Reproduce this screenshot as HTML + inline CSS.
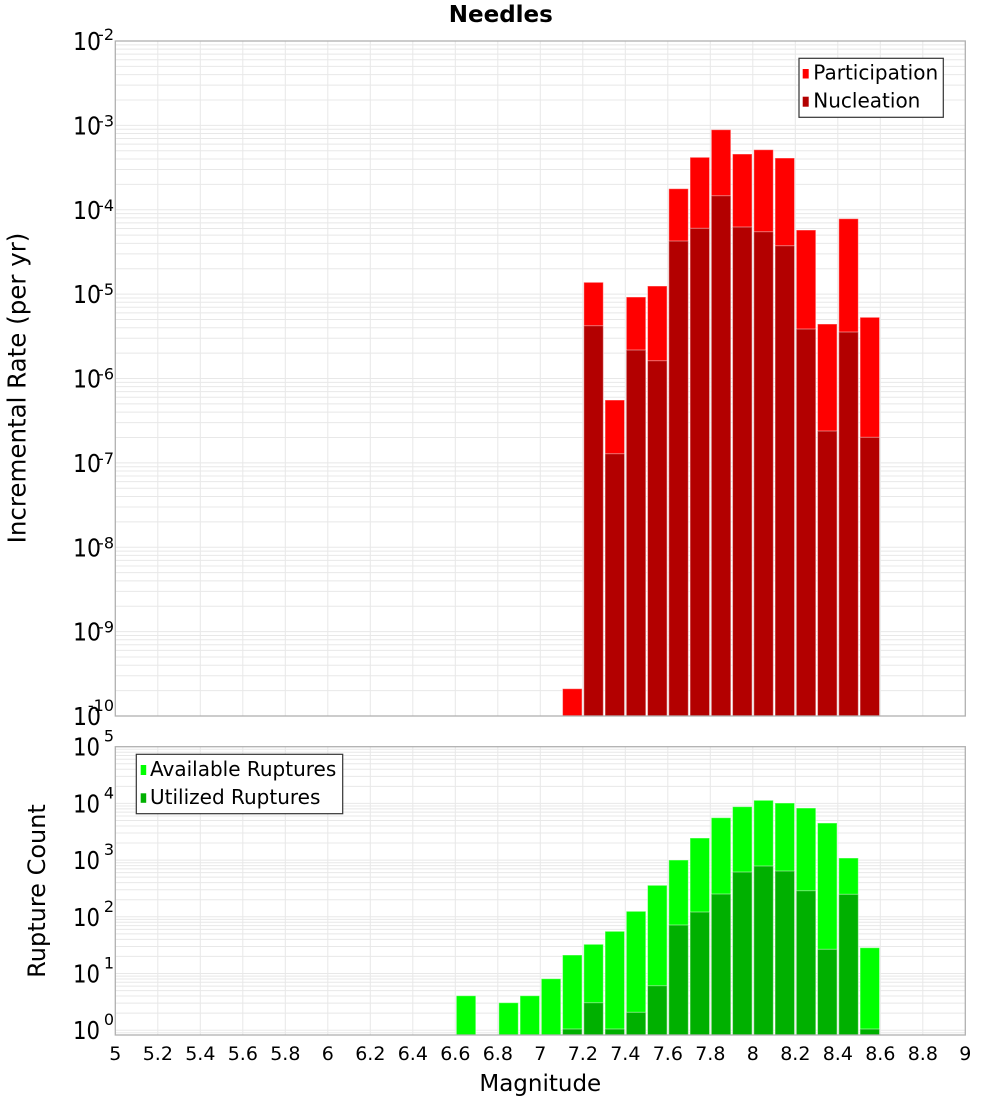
<!DOCTYPE html>
<html><head><meta charset="utf-8"><style>
html,body{margin:0;padding:0;background:#fff;}
svg{display:block;font-family:"DejaVu Sans","Liberation Sans",sans-serif;}
</style></head><body>
<svg width="1000" height="1100" viewBox="0 0 1000 1100" xmlns="http://www.w3.org/2000/svg">
<defs>
<clipPath id="c1"><rect x="115.3" y="41" width="850" height="675"/></clipPath>
<clipPath id="c2"><rect x="115.3" y="746.7" width="850" height="288.3"/></clipPath>
<g id="dt" stroke="#e8e8e8" stroke-width="1">
<line x1="115" x2="966" y1="0" y2="0"/><line x1="115" x2="966" y1="-25.4" y2="-25.4"/><line x1="115" x2="966" y1="-40.26" y2="-40.26"/><line x1="115" x2="966" y1="-50.8" y2="-50.8"/><line x1="115" x2="966" y1="-58.97" y2="-58.97"/><line x1="115" x2="966" y1="-65.66" y2="-65.66"/><line x1="115" x2="966" y1="-71.31" y2="-71.31"/><line x1="115" x2="966" y1="-76.2" y2="-76.2"/><line x1="115" x2="966" y1="-80.51" y2="-80.51"/>
</g>
<g id="db" stroke="#e8e8e8" stroke-width="1">
<line x1="115" x2="966" y1="0" y2="0"/><line x1="115" x2="966" y1="-17.07" y2="-17.07"/><line x1="115" x2="966" y1="-27.05" y2="-27.05"/><line x1="115" x2="966" y1="-34.14" y2="-34.14"/><line x1="115" x2="966" y1="-39.63" y2="-39.63"/><line x1="115" x2="966" y1="-44.12" y2="-44.12"/><line x1="115" x2="966" y1="-47.92" y2="-47.92"/><line x1="115" x2="966" y1="-51.2" y2="-51.2"/><line x1="115" x2="966" y1="-54.1" y2="-54.1"/>
</g>
<g id="vg" stroke="#e8e8e8" stroke-width="1">
<line x1="157.8" x2="157.8" y1="0" y2="1100"/><line x1="200.3" x2="200.3" y1="0" y2="1100"/><line x1="242.8" x2="242.8" y1="0" y2="1100"/><line x1="285.3" x2="285.3" y1="0" y2="1100"/><line x1="327.8" x2="327.8" y1="0" y2="1100"/><line x1="370.3" x2="370.3" y1="0" y2="1100"/><line x1="412.8" x2="412.8" y1="0" y2="1100"/><line x1="455.3" x2="455.3" y1="0" y2="1100"/><line x1="497.8" x2="497.8" y1="0" y2="1100"/><line x1="540.3" x2="540.3" y1="0" y2="1100"/><line x1="582.8" x2="582.8" y1="0" y2="1100"/><line x1="625.3" x2="625.3" y1="0" y2="1100"/><line x1="667.8" x2="667.8" y1="0" y2="1100"/><line x1="710.3" x2="710.3" y1="0" y2="1100"/><line x1="752.8" x2="752.8" y1="0" y2="1100"/><line x1="795.3" x2="795.3" y1="0" y2="1100"/><line x1="837.8" x2="837.8" y1="0" y2="1100"/><line x1="880.3" x2="880.3" y1="0" y2="1100"/><line x1="922.8" x2="922.8" y1="0" y2="1100"/>
</g>
</defs>

<!-- Title -->
<text x="500.8" y="22" font-size="23" font-weight="bold" text-anchor="middle" fill="#000">Needles</text>

<!-- TOP PLOT grid -->
<g clip-path="url(#c1)">
<use href="#vg"/>
<use href="#dt" transform="translate(0,716)"/>
<use href="#dt" transform="translate(0,631.625)"/>
<use href="#dt" transform="translate(0,547.25)"/>
<use href="#dt" transform="translate(0,462.875)"/>
<use href="#dt" transform="translate(0,378.5)"/>
<use href="#dt" transform="translate(0,294.125)"/>
<use href="#dt" transform="translate(0,209.75)"/>
<use href="#dt" transform="translate(0,125.375)"/>
<use href="#dt" transform="translate(0,41)"/>

<g stroke="rgba(255,255,255,0.45)" stroke-width="1">
<g fill="#ff0000">
<rect x="562.55" y="688.7" width="19.5" height="27.3"/>
<rect x="583.8" y="282.3" width="19.5" height="433.7"/>
<rect x="605.05" y="400" width="19.5" height="316"/>
<rect x="626.3" y="297" width="19.5" height="419"/>
<rect x="647.55" y="286" width="19.5" height="430"/>
<rect x="668.8" y="188.7" width="19.5" height="527.3"/>
<rect x="690.05" y="157.3" width="19.5" height="558.7"/>
<rect x="711.3" y="129.7" width="19.5" height="586.3"/>
<rect x="732.55" y="154" width="19.5" height="562"/>
<rect x="753.8" y="149.7" width="19.5" height="566.3"/>
<rect x="775.05" y="158" width="19.5" height="558"/>
<rect x="796.3" y="230" width="19.5" height="486"/>
<rect x="817.55" y="324" width="19.5" height="392"/>
<rect x="838.8" y="218.7" width="19.5" height="497.3"/>
<rect x="860.05" y="317.3" width="19.5" height="398.7"/>
</g>
<g fill="#b30000">
<rect x="583.8" y="325.7" width="19.5" height="390.3"/>
<rect x="605.05" y="453.7" width="19.5" height="262.3"/>
<rect x="626.3" y="350" width="19.5" height="366"/>
<rect x="647.55" y="360.7" width="19.5" height="355.3"/>
<rect x="668.8" y="241" width="19.5" height="475"/>
<rect x="690.05" y="228.3" width="19.5" height="487.7"/>
<rect x="711.3" y="195.7" width="19.5" height="520.3"/>
<rect x="732.55" y="227" width="19.5" height="489"/>
<rect x="753.8" y="231.7" width="19.5" height="484.3"/>
<rect x="775.05" y="245.7" width="19.5" height="470.3"/>
<rect x="796.3" y="329" width="19.5" height="387"/>
<rect x="817.55" y="431" width="19.5" height="285"/>
<rect x="838.8" y="332" width="19.5" height="384"/>
<rect x="860.05" y="437.3" width="19.5" height="278.7"/>
</g>
</g>
</g>
<rect x="115.3" y="41" width="850" height="675" fill="none" stroke="#b0b0b0" stroke-width="1.3"/>

<!-- top legend -->
<rect x="799" y="58.3" width="144.3" height="59" fill="#fff" stroke="#333" stroke-width="1.2"/>
<rect x="802.7" y="69" width="6" height="9.5" fill="#ff0000"/>
<rect x="802.7" y="96.7" width="6" height="10" fill="#b30000"/>
<text x="813.3" y="79.5" font-size="20" fill="#000">Participation</text>
<text x="813.3" y="107.5" font-size="20" fill="#000">Nucleation</text>

<!-- top y tick labels -->
<g fill="#000">
<g font-size="25">
<text x="73" y="50" textLength="28" lengthAdjust="spacingAndGlyphs">10</text>
<text x="73" y="134.4" textLength="28" lengthAdjust="spacingAndGlyphs">10</text>
<text x="73" y="218.8" textLength="28" lengthAdjust="spacingAndGlyphs">10</text>
<text x="73" y="303.1" textLength="28" lengthAdjust="spacingAndGlyphs">10</text>
<text x="73" y="387.5" textLength="28" lengthAdjust="spacingAndGlyphs">10</text>
<text x="73" y="471.9" textLength="28" lengthAdjust="spacingAndGlyphs">10</text>
<text x="73" y="556.3" textLength="28" lengthAdjust="spacingAndGlyphs">10</text>
<text x="73" y="640.6" textLength="28" lengthAdjust="spacingAndGlyphs">10</text>
<text x="73" y="725" textLength="28" lengthAdjust="spacingAndGlyphs">10</text>
</g>
<g font-size="16" text-anchor="end">
<text x="114" y="40">-2</text>
<text x="114" y="126.4">-3</text>
<text x="114" y="210.8">-4</text>
<text x="114" y="295.1">-5</text>
<text x="114" y="379.5">-6</text>
<text x="114" y="463.9">-7</text>
<text x="114" y="548.3">-8</text>
<text x="114" y="632.6">-9</text>
<text x="114" y="711">-10</text>
</g>
</g>

<text transform="translate(25.5,388) rotate(-90)" font-size="24.5" text-anchor="middle" fill="#000">Incremental Rate (per yr)</text>

<!-- BOTTOM PLOT grid -->
<g clip-path="url(#c2)">
<use href="#vg"/>
<use href="#db" transform="translate(0,1086.9)"/>
<use href="#db" transform="translate(0,1030.2)"/>
<use href="#db" transform="translate(0,973.5)"/>
<use href="#db" transform="translate(0,916.8)"/>
<use href="#db" transform="translate(0,860.1)"/>
<use href="#db" transform="translate(0,803.4)"/>
<use href="#db" transform="translate(0,746.7)"/>

<g stroke="rgba(255,255,255,0.45)" stroke-width="1">
<g fill="#00ff00">
<rect x="456.3" y="995.7" width="19.5" height="39.3"/>
<rect x="498.8" y="1002.7" width="19.5" height="32.3"/>
<rect x="520.05" y="995.7" width="19.5" height="39.3"/>
<rect x="541.3" y="978.7" width="19.5" height="56.3"/>
<rect x="562.55" y="955" width="19.5" height="80"/>
<rect x="583.8" y="944.3" width="19.5" height="90.7"/>
<rect x="605.05" y="931.3" width="19.5" height="103.7"/>
<rect x="626.3" y="911.3" width="19.5" height="123.7"/>
<rect x="647.55" y="885.3" width="19.5" height="149.7"/>
<rect x="668.8" y="860" width="19.5" height="175"/>
<rect x="690.05" y="838" width="19.5" height="197"/>
<rect x="711.3" y="817.7" width="19.5" height="217.3"/>
<rect x="732.55" y="806.7" width="19.5" height="228.3"/>
<rect x="753.8" y="800.3" width="19.5" height="234.7"/>
<rect x="775.05" y="803" width="19.5" height="232"/>
<rect x="796.3" y="808" width="19.5" height="227"/>
<rect x="817.55" y="823" width="19.5" height="212"/>
<rect x="838.8" y="858" width="19.5" height="177"/>
<rect x="860.05" y="947.7" width="19.5" height="87.3"/>
</g>
<g fill="#00b000">
<rect x="562.55" y="1029" width="19.5" height="6"/>
<rect x="583.8" y="1002.7" width="19.5" height="32.3"/>
<rect x="605.05" y="1029" width="19.5" height="6"/>
<rect x="626.3" y="1012.3" width="19.5" height="22.7"/>
<rect x="647.55" y="985.7" width="19.5" height="49.3"/>
<rect x="668.8" y="925" width="19.5" height="110"/>
<rect x="690.05" y="912" width="19.5" height="123"/>
<rect x="711.3" y="894" width="19.5" height="141"/>
<rect x="732.55" y="872" width="19.5" height="163"/>
<rect x="753.8" y="866" width="19.5" height="169"/>
<rect x="775.05" y="871" width="19.5" height="164"/>
<rect x="796.3" y="890.7" width="19.5" height="144.3"/>
<rect x="817.55" y="949.3" width="19.5" height="85.7"/>
<rect x="838.8" y="894.3" width="19.5" height="140.7"/>
<rect x="860.05" y="1029" width="19.5" height="6"/>
</g>
</g>
</g>
<rect x="115.3" y="746.7" width="850" height="288.3" fill="none" stroke="#b0b0b0" stroke-width="1.3"/>

<!-- bottom legend -->
<rect x="136.3" y="754.3" width="206.4" height="59.4" fill="#fff" stroke="#333" stroke-width="1.2"/>
<rect x="140.7" y="765" width="5.5" height="10" fill="#00ff00"/>
<rect x="140.7" y="793.3" width="5.5" height="9.5" fill="#00b000"/>
<text x="150" y="776" font-size="20" fill="#000">Available Ruptures</text>
<text x="150" y="804" font-size="20" fill="#000">Utilized Ruptures</text>

<!-- bottom y tick labels -->
<g fill="#000">
<g font-size="25">
<text x="73" y="755.7" textLength="27" lengthAdjust="spacingAndGlyphs">10</text>
<text x="73" y="812.4" textLength="27" lengthAdjust="spacingAndGlyphs">10</text>
<text x="73" y="869.1" textLength="27" lengthAdjust="spacingAndGlyphs">10</text>
<text x="73" y="925.8" textLength="27" lengthAdjust="spacingAndGlyphs">10</text>
<text x="73" y="982.5" textLength="27" lengthAdjust="spacingAndGlyphs">10</text>
<text x="73" y="1039.2" textLength="27" lengthAdjust="spacingAndGlyphs">10</text>
</g>
<g font-size="16" text-anchor="end">
<text x="114" y="741.7">5</text>
<text x="114" y="798.4">4</text>
<text x="114" y="855.1">3</text>
<text x="114" y="911.8">2</text>
<text x="114" y="968.5">1</text>
<text x="114" y="1025.2">0</text>
</g>
</g>

<text transform="translate(45,891) rotate(-90)" font-size="24" text-anchor="middle" fill="#000">Rupture Count</text>

<!-- x tick labels -->
<g font-size="19" text-anchor="middle" fill="#000">
<text x="115.3" y="1060">5</text>
<text x="157.8" y="1060">5.2</text>
<text x="200.3" y="1060">5.4</text>
<text x="242.8" y="1060">5.6</text>
<text x="285.3" y="1060">5.8</text>
<text x="327.8" y="1060">6</text>
<text x="370.3" y="1060">6.2</text>
<text x="412.8" y="1060">6.4</text>
<text x="455.3" y="1060">6.6</text>
<text x="497.8" y="1060">6.8</text>
<text x="540.3" y="1060">7</text>
<text x="582.8" y="1060">7.2</text>
<text x="625.3" y="1060">7.4</text>
<text x="667.8" y="1060">7.6</text>
<text x="710.3" y="1060">7.8</text>
<text x="752.8" y="1060">8</text>
<text x="795.3" y="1060">8.2</text>
<text x="837.8" y="1060">8.4</text>
<text x="880.3" y="1060">8.6</text>
<text x="922.8" y="1060">8.8</text>
<text x="965.3" y="1060">9</text>
</g>
<text x="540.3" y="1091" font-size="23" text-anchor="middle" fill="#000">Magnitude</text>
</svg>
</body></html>
